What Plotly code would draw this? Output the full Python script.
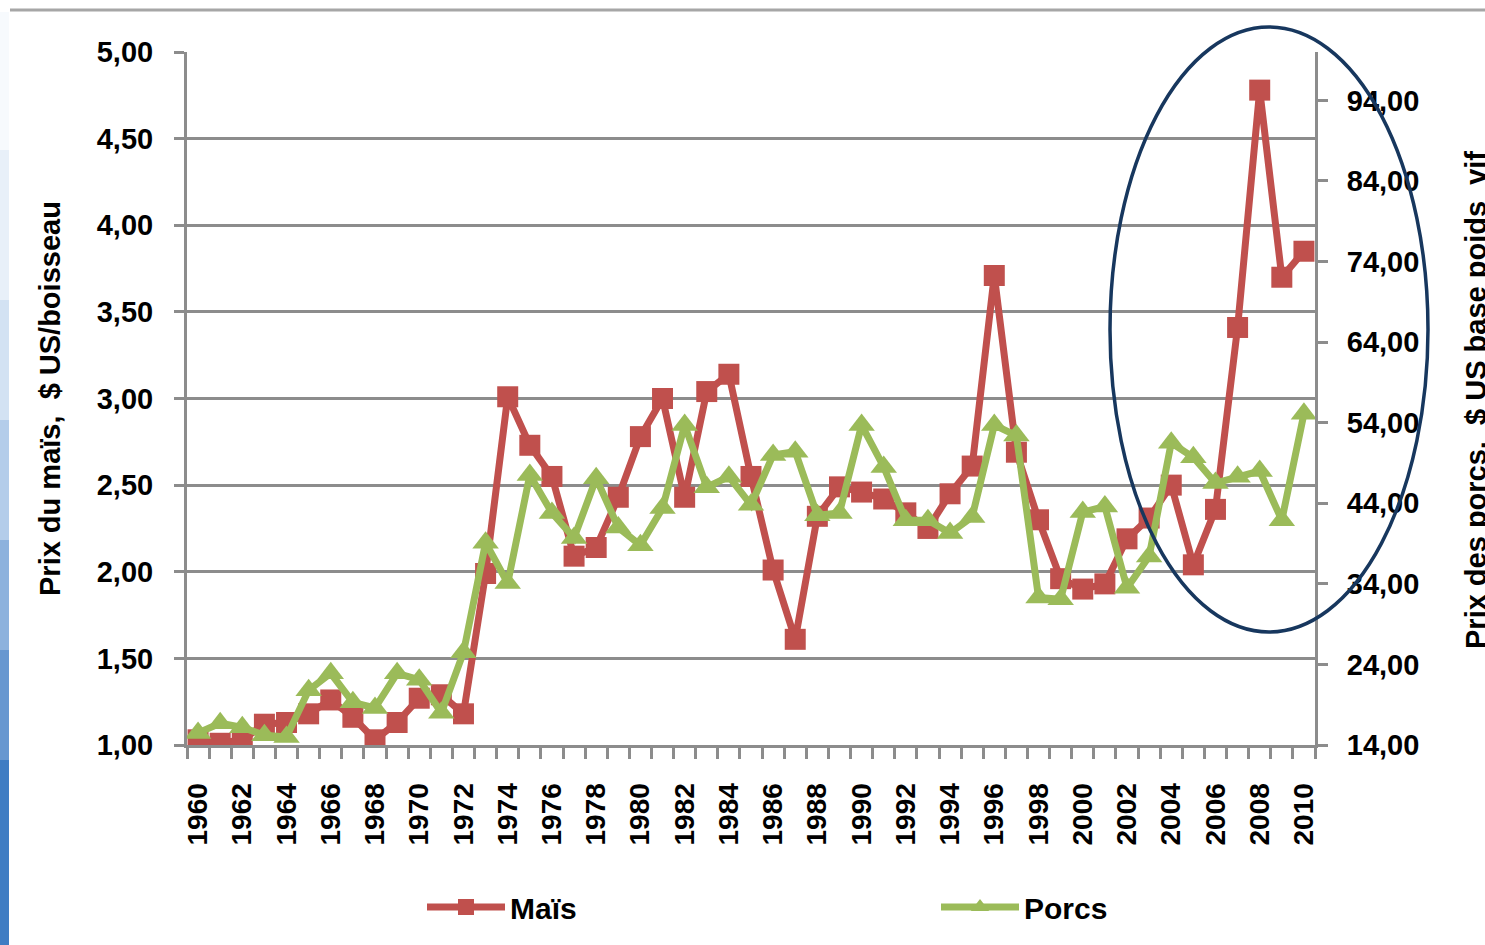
import plotly.graph_objects as go

years = list(range(1960, 2011))

mais = [1.03, 1.01, 1.03, 1.12, 1.13, 1.18, 1.26, 1.16, 1.03, 1.13,
        1.27, 1.29, 1.18, 1.99, 3.01, 2.73, 2.55, 2.09, 2.14, 2.43,
        2.78, 3.00, 2.43, 3.04, 3.14, 2.55, 2.01, 1.61, 2.32, 2.49,
        2.46, 2.42, 2.34, 2.25, 2.45, 2.61, 3.71, 2.69, 2.30, 1.96,
        1.90, 1.93, 2.19, 2.31, 2.50, 2.04, 2.36, 3.41, 4.78, 3.70,
        3.85]

porcs = [15.5, 16.7, 16.2, 15.2, 15.0, 20.8, 22.9, 19.3, 18.6, 22.9,
         22.1, 18.0, 25.5, 39.1, 34.1, 47.5, 42.8, 39.7, 47.1, 41.0,
         38.8, 43.4, 53.7, 46.0, 47.3, 43.8, 50.0, 50.4, 42.5, 42.8,
         53.7, 48.5, 41.9, 41.9, 40.3, 42.3, 53.7, 52.4, 32.3, 32.1,
         42.9, 43.6, 33.5, 37.4, 51.5, 49.7, 46.5, 47.3, 48.0, 41.9,
         55.1]

x_tick_years = years[::2]
x_tick_labels = [str(y) for y in x_tick_years]
left_ticks = [1.0, 1.5, 2.0, 2.5, 3.0, 3.5, 4.0, 4.5, 5.0]
right_ticks = [14, 24, 34, 44, 54, 64, 74, 84, 94]

series_names = ["Maïs", "Porcs"]
left_title = "Prix du maïs,  $ US/boisseau"
right_title = "Prix des porcs,  $ US base poids  vif"

RED = "#C0504D"
GREEN = "#9BBB59"
GRAY = "#8C8C8C"
NAVY = "#17375E"
FONT = "Liberation Sans, Arial, sans-serif"

W, H = 1485, 945
L, R, T, B = 187, 170, 52, 200
PW = W - L - R
PH = H - T - B


def px_x(p):
    return (p - L) / PW


def px_y(p):
    return (H - B - p) / PH


fig = go.Figure()
fig.add_trace(go.Scatter(
    x=years, y=mais, name=series_names[0], mode="lines+markers",
    line=dict(color=RED, width=7),
    marker=dict(symbol="square", size=21, color=RED),
    yaxis="y", legend="legend"))
fig.add_trace(go.Scatter(
    x=years, y=porcs, name=series_names[1], mode="lines+markers",
    line=dict(color=GREEN, width=7),
    marker=dict(symbol="triangle-up", size=23, color=GREEN),
    yaxis="y2", legend="legend2"))

shapes = []
# navy ellipse highlighting recent years
shapes.append(dict(type="circle", xref="paper", yref="paper",
                   x0=px_x(1110), x1=px_x(1428), y0=px_y(632), y1=px_y(27),
                   line=dict(color=NAVY, width=3.5), layer="above"))
# top gray rule
shapes.append(dict(type="line", xref="paper", yref="paper",
                   x0=px_x(10), x1=px_x(1485), y0=px_y(10), y1=px_y(10),
                   line=dict(color="#A6A6A6", width=3)))
# left decorative strip
strip = [(12, 150, "#F7FAFD"), (150, 300, "#E8F0F9"), (300, 420, "#D3E2F3"),
         (420, 540, "#B4CDEA"), (540, 650, "#8DB2DD"), (650, 760, "#6797D0"),
         (760, 945, "#3F7DC3")]
for y0, y1, c in strip:
    shapes.append(dict(type="rect", xref="paper", yref="paper",
                       x0=px_x(0), x1=px_x(9), y0=px_y(y1), y1=px_y(y0),
                       fillcolor=c, line=dict(width=0), layer="below"))

title_font = dict(family=FONT, size=29, color="black", weight="bold")
annotations = [
    dict(text=left_title, xref="paper", yref="paper", x=px_x(50), y=px_y(399),
         xanchor="center", yanchor="middle", textangle=-90, showarrow=False,
         font=title_font),
    dict(text=right_title, xref="paper", yref="paper", x=px_x(1476), y=px_y(400),
         xanchor="center", yanchor="middle", textangle=-90, showarrow=False,
         font=title_font),
]

legend_font = dict(family=FONT, size=30, color="black", weight="bold")

fig.update_layout(
    width=W, height=H,
    margin=dict(l=L, r=R, t=T, b=B, pad=0, autoexpand=False),
    paper_bgcolor="white", plot_bgcolor="white",
    separators=", ",
    showlegend=True,
    legend=dict(orientation="h", x=px_x(422), y=px_y(907), xanchor="left",
                yanchor="middle", itemwidth=78, font=legend_font,
                bgcolor="rgba(0,0,0,0)"),
    legend2=dict(orientation="h", x=px_x(936), y=px_y(907), xanchor="left",
                 yanchor="middle", itemwidth=78, font=legend_font,
                 bgcolor="rgba(0,0,0,0)"),
    shapes=shapes,
    annotations=annotations,
    xaxis=dict(
        range=[1959.5, 2010.5], tickmode="array", tickvals=x_tick_years,
        ticktext=x_tick_labels, tickangle=-90, ticks="outside", ticklen=24,
        tickcolor="rgba(0,0,0,0)", showgrid=False, zeroline=False,
        showline=True, linecolor=GRAY, linewidth=3, automargin=False,
        tickfont=dict(family=FONT, size=28, color="black", weight="bold"),
        minor=dict(ticks="outside", tick0=1959.5, dtick=1, ticklen=11,
                   tickwidth=3, tickcolor=GRAY, showgrid=False),
    ),
    yaxis=dict(
        range=[1, 5], tickmode="array", tickvals=left_ticks, tickformat=".2f",
        ticks="outside", ticklen=10, tickwidth=3, tickcolor=GRAY,
        showgrid=True, gridcolor=GRAY, gridwidth=3, zeroline=False,
        showline=True, linecolor=GRAY, linewidth=3, ticklabelstandoff=15,
        automargin=False,
        tickfont=dict(family=FONT, size=29, color="black", weight="bold"),
    ),
    yaxis2=dict(
        range=[14, 100], overlaying="y", side="right", tickmode="array",
        tickvals=right_ticks, tickformat=".2f",
        ticks="outside", ticklen=10, tickwidth=3, tickcolor=GRAY,
        showgrid=False, zeroline=False, showline=True, linecolor=GRAY,
        linewidth=3, ticklabelstandoff=13, automargin=False,
        tickfont=dict(family=FONT, size=29, color="black", weight="bold"),
    ),
)

fig.write_html("out.html", config={"displayModeBar": False},
               post_script="document.body.style.margin='0px';")
